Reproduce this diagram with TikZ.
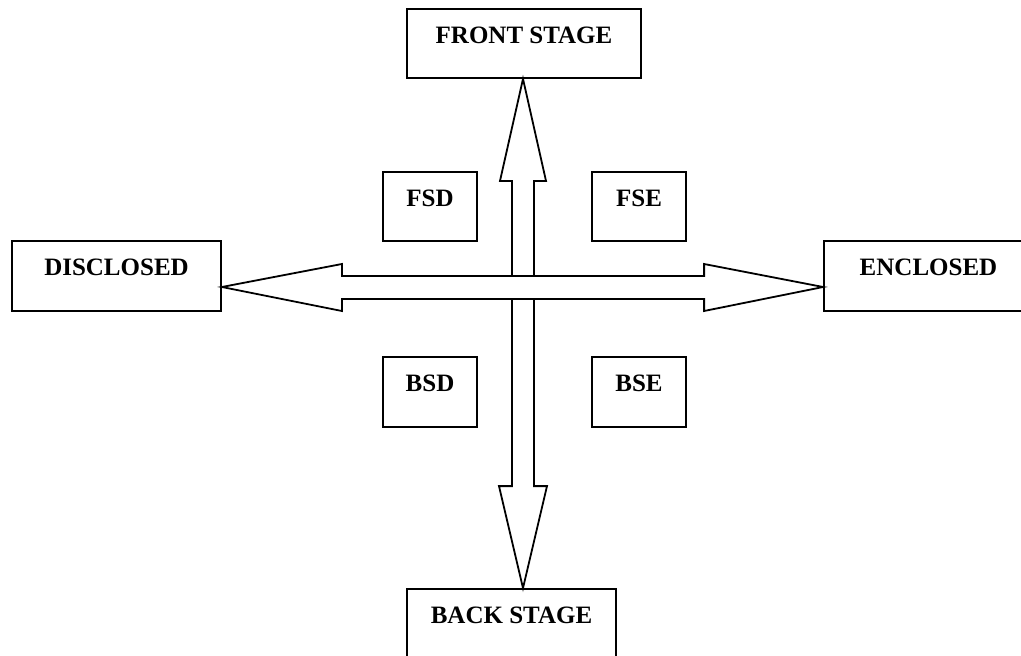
\documentclass[tikz,border=0pt]{standalone}
\usepackage{fontspec}
\setmainfont{Liberation Serif}
\usetikzlibrary{calc}
\begin{document}
\begin{tikzpicture}[x=1pt,y=-1pt,
  box/.style={draw=black, line width=1.8pt, fill=white, inner sep=0pt, anchor=base,
    text height=34pt, font=\fontsize{25}{28}\selectfont\bfseries},
  bigbox/.style={box, minimum width=209pt},
  smallbox/.style={box, minimum width=94pt},
  blockarrow/.style={draw=black, line width=1.8pt, fill=white, line join=miter}]
\useasboundingbox (0,0) rectangle (1021,656);
\clip (0,0) rectangle (1021,656);
% boxes
\node[box, minimum width=234pt, text depth=35pt] (front) at (524,43) {FRONT STAGE};
\node[bigbox, text depth=36pt] (disc) at (116.5,275) {DISCLOSED};
\node[bigbox, text depth=36pt] (encl) at (928.5,275) {ENCLOSED};
\node[bigbox, text depth=36pt] (back) at (511.5,623) {BACK STAGE};
\node[smallbox, text depth=35pt] (fsd) at (430,206) {FSD};
\node[smallbox, text depth=35pt] (fse) at (639,206) {FSE};
\node[smallbox, text depth=36pt] (bsd) at (430,391) {BSD};
\node[smallbox, text depth=36pt] (bse) at (639,391) {BSE};
% arrow end points
\coordinate (vt) at (front.south -| 523,0);
\coordinate (vb) at (back.north -| 523,0);
\coordinate (hl) at (disc.east |- 0,287);
\coordinate (hr) at (encl.west |- 0,287);
% vertical double block arrow
\draw[blockarrow] (vt) -- ($(vt)+(23,102)$) -- ($(vt)+(11,102)$) -- ($(vb)+(11,-102)$)
  -- ($(vb)+(24,-102)$) -- (vb) -- ($(vb)+(-24,-102)$) -- ($(vb)+(-11,-102)$)
  -- ($(vt)+(-11,102)$) -- ($(vt)+(-23,102)$) -- cycle;
% horizontal double block arrow
\draw[blockarrow] (hl) -- ($(hl)+(120,-23)$) -- ($(hl)+(120,-11)$) -- ($(hr)+(-119,-11)$)
  -- ($(hr)+(-119,-23)$) -- (hr) -- ($(hr)+(-119,24)$) -- ($(hr)+(-119,12)$)
  -- ($(hl)+(120,12)$) -- ($(hl)+(120,24)$) -- cycle;
\end{tikzpicture}
\end{document}
